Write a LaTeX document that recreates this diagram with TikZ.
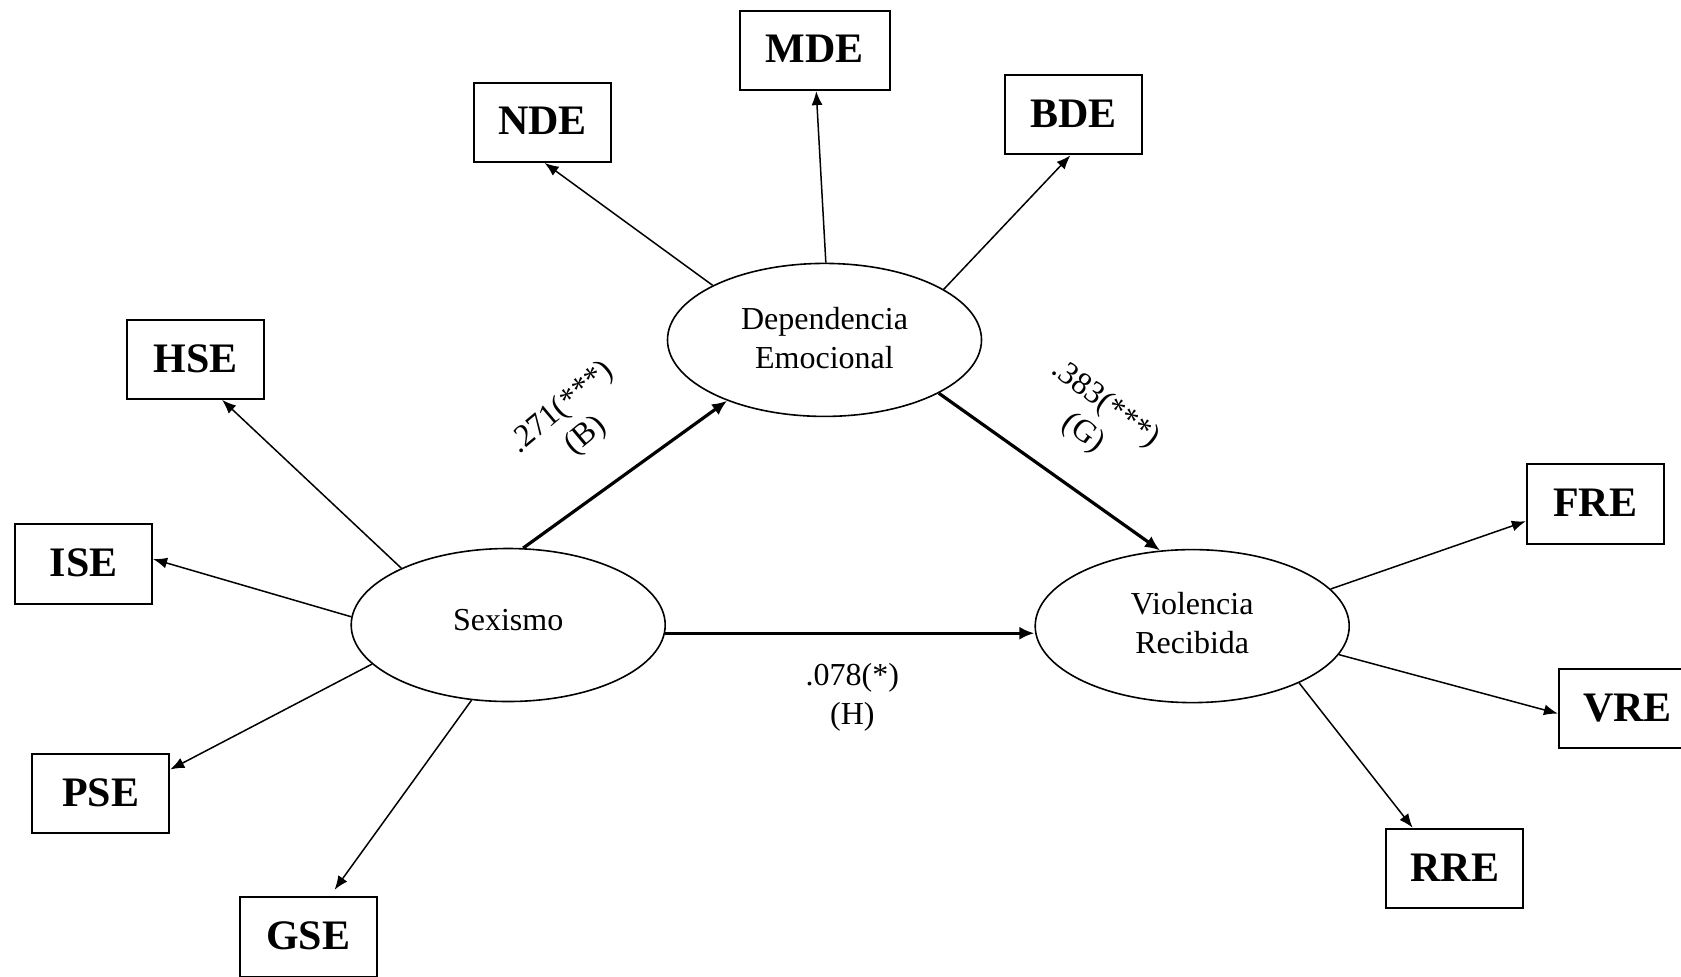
\documentclass[tikz,border=0pt]{standalone}
\usepackage{fontspec}
\setmainfont{Liberation Serif}
\usetikzlibrary{arrows.meta,shapes.geometric}
\begin{document}
\begin{tikzpicture}[x=0.5pt,y=-0.5pt,
  box/.style={draw, line width=1pt, minimum width=68.5pt, minimum height=39.7pt,
    font=\fontsize{21}{25}\selectfont\bfseries, inner sep=0pt},
  lat/.style={draw, ellipse, line width=0.8pt, minimum width=157pt, minimum height=76.5pt,
    font=\fontsize{16}{19.5}\selectfont, align=center, inner sep=0pt},
  ind/.style={line width=0.75pt, -{Latex[length=7pt,width=5.5pt]}},
  pathar/.style={line width=1.6pt, -{Latex[length=7.5pt,width=6.5pt]}},
  lbl/.style={font=\fontsize{16}{18.5}\selectfont, align=center, inner sep=0pt}]
\clip (0,0) rectangle (1681,976);
\fill[white] (0,0) rectangle (1681,976);
% latent variables
\node[lat] (DE) at (824.5,339.9) {\raisebox{2pt}{Dependencia}\\\raisebox{2pt}{Emocional}};
\node[lat] (S) at (508.2,625) {\raisebox{5pt}{Sexismo}};
\node[lat] (VR) at (1192.2,626.1) {\raisebox{3pt}{Violencia}\\\raisebox{3pt}{Recibida}};
% indicators
\node[box, minimum width=75pt] (MDE) at (814.8,50.4) {\raisebox{1.5pt}{MDE}};
\node[box] (NDE) at (542.5,122.2) {\raisebox{1pt}{NDE}};
\node[box] (BDE) at (1073.2,114.7) {\raisebox{1pt}{BDE}};
\node[box] (HSE) at (195.7,359.2) {\raisebox{1pt}{HSE}};
\node[box] (ISE) at (83.6,563.9) {\raisebox{1pt}{ISE}};
\node[box] (PSE) at (100.8,793.4) {\raisebox{1pt}{PSE}};
\node[box] (GSE) at (308.2,937) {\raisebox{1pt}{GSE}};
\node[box] (FRE) at (1595.3,503.9) {\raisebox{1pt}{FRE}};
\node[box] (VRE) at (1627.4,708.7) {\raisebox{1pt}{VRE}};
\node[box] (RRE) at (1454.8,868.4) {\raisebox{1pt}{RRE}};
% structural paths
\draw[pathar] (S.79.8) -- (DE.212.3);
\draw[pathar] (DE.-25.1) -- (VR.113.7);
\draw[pathar] (S.-3.5) -- (S.-3.5 -| VR.west);
% measurement paths
\draw[ind] (DE.154.1) -- (NDE.-87);
\draw[ind] (DE.89.3) -- (MDE.-88.4);
\draw[ind] (DE.23.9) -- (BDE.-94.6);
\draw[ind] (S.152.8) -- (HSE.-57.5);
\draw[ind] (S.177.7) -- (ISE.4.4);
\draw[ind] (S.196.6) -- (PSE.19.3);
\draw[ind, shorten >=4pt] (S.-116.2) -- (GSE.62);
\draw[ind] (VR.15.1) -- (FRE.-166.4);
\draw[ind] (VR.-11.4) -- (VRE.184.4);
\draw[ind] (VR.-28.7) -- (RRE.136.4);
% labels
\node[lbl, rotate=40] (L1) at (574,422) {.271(***)\\(B)};
\node[lbl, rotate=-37] (L2) at (1094,419) {.383(***)\\(G)};
\node[lbl, font=\fontsize{16}{19.5}\selectfont] (L3) at (852.3,697.5) {.078(*)\\(H)};
\end{tikzpicture}
\end{document}
